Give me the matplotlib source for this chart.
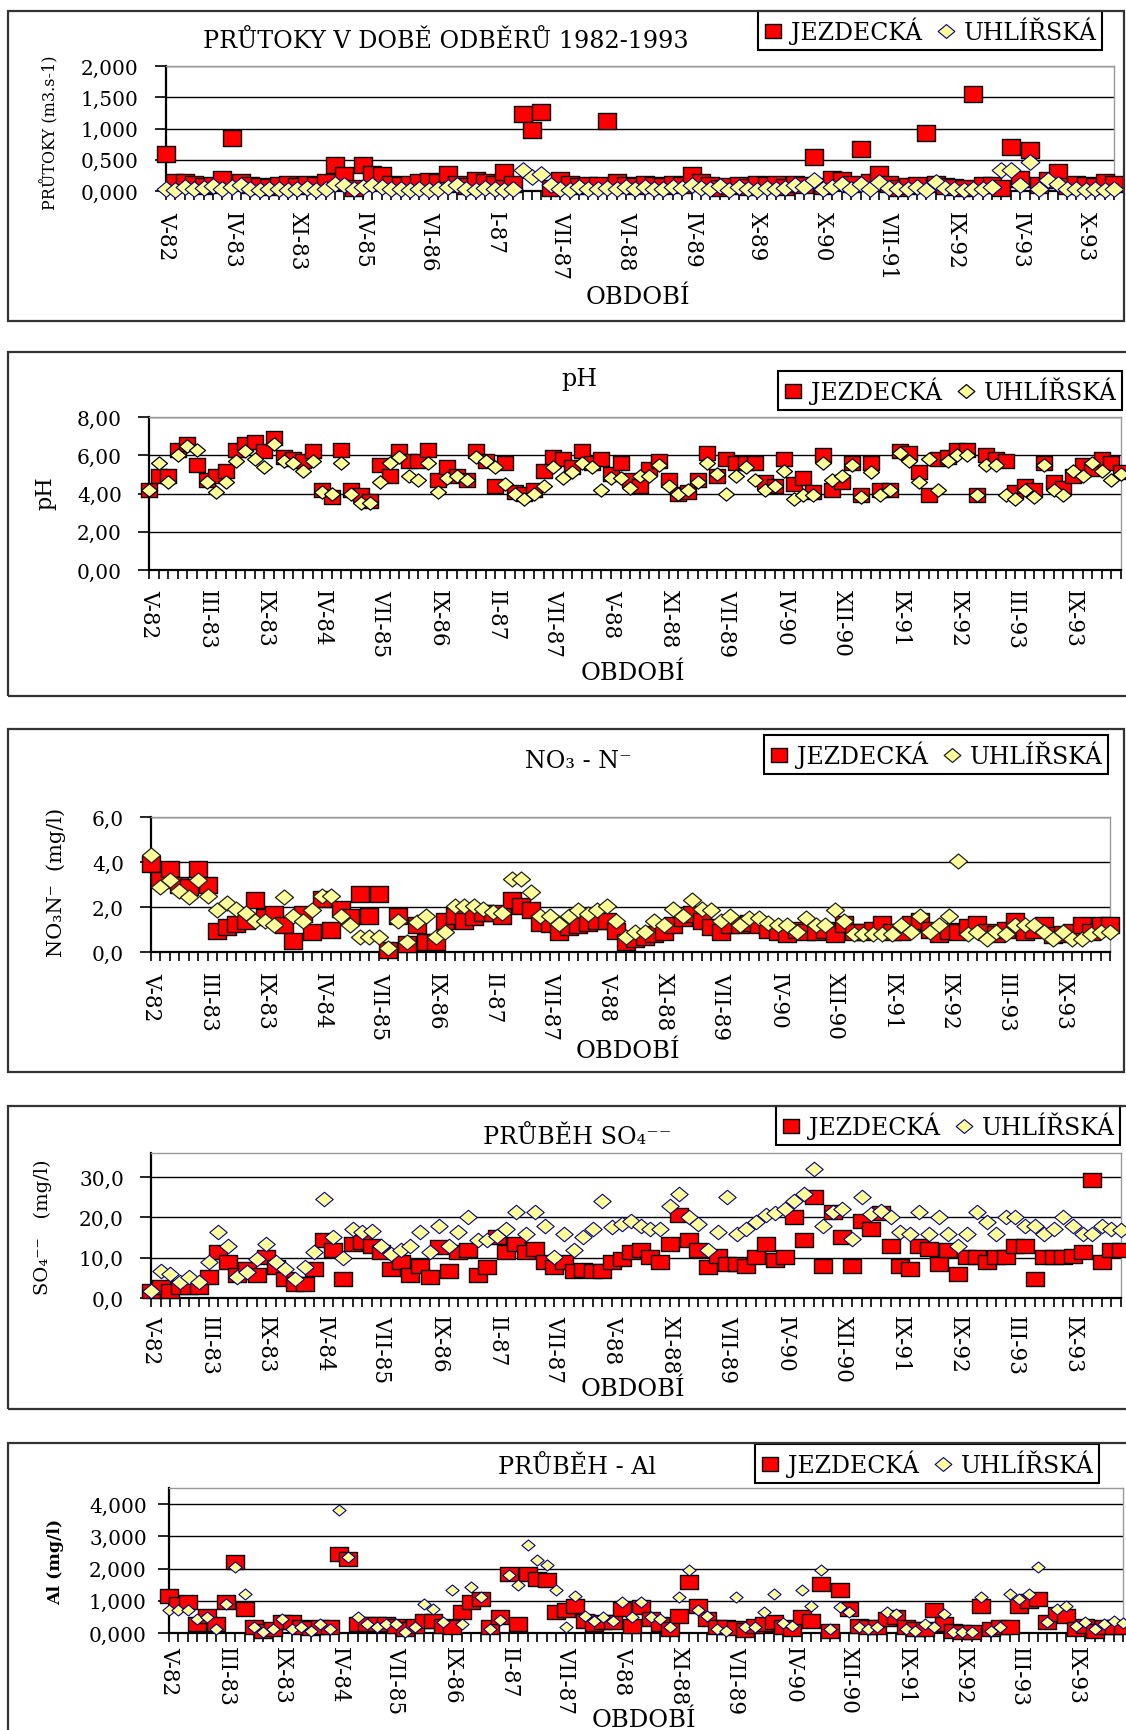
import numpy as np
import matplotlib
matplotlib.use("Agg")
import matplotlib.pyplot as plt
from matplotlib.lines import Line2D
from matplotlib.patches import Rectangle
from matplotlib.path import Path
from matplotlib.ticker import FuncFormatter

plt.rcParams['font.family'] = ['DejaVu Serif']

W, H, DPI = 1126, 1731, 100

# Sampling periods (category axis)
periods = [
    "V-82", "VI-82", "VII-82", "VIII-82", "IX-82", "XI-82", "III-83", "IV-83", "V-83", "VI-83",
    "VII-83", "VIII-83", "IX-83", "X-83", "XI-83", "I-84", "II-84", "III-84", "IV-84", "VI-84",
    "X-84", "IV-85", "V-85", "VI-85", "VII-85", "IX-85", "XI-85", "IV-86", "VI-86", "VII-86",
    "IX-86", "X-86", "X-86", "XI-86", "XII-86", "I-87", "II-87", "III-87", "IV-87", "IV-87",
    "V-87", "VI-87", "VII-87", "VIII-87", "IX-87", "X-87", "XI-87", "III-88", "V-88", "VI-88",
    "VII-88", "VIII-88", "IX-88", "X-88", "XI-88", "III-89", "IV-89", "V-89", "V-89", "VI-89",
    "VII-89", "VIII-89", "IX-89", "X-89", "XI-89", "III-90", "IV-90", "V-90", "VI-90", "VIII-90",
    "X-90", "XI-90", "XII-90", "II-91", "III-91", "IV-91", "VI-91", "VII-91", "IX-91", "X-91",
    "XI-91", "IV-92", "V-92", "VII-92", "IX-92", "X-92", "XI-92", "XII-92", "I-93", "II-93",
    "III-93", "IV-93", "V-93", "VI-93", "VII-93", "VIII-93", "IX-93", "IX-93", "X-93", "XI-93",
    "XII-93", "I-94",
]

series_names = ["JEZDECKÁ", "UHLÍŘSKÁ"]

# Discharge (m3/s)
flow_jez = [
    0.60, 0.15, 0.14, 0.12, 0.08, 0.10, 0.20, 0.85, 0.15, 0.10,
    0.08, 0.06, 0.10, 0.12, 0.08, 0.12, 0.10, 0.14, 0.42, 0.25,
    0.05, 0.42, 0.28, 0.25, 0.12, 0.10, 0.12, 0.14, 0.16, 0.15,
    0.27, 0.12, 0.08, 0.18, 0.15, 0.12, 0.31, 0.12, 1.23, 0.98,
    1.27, 0.05, 0.18, 0.12, 0.08, 0.10, 0.09, 1.12, 0.15, 0.10,
    0.08, 0.12, 0.10, 0.08, 0.12, 0.10, 0.25, 0.14, 0.10, 0.05,
    0.08, 0.10, 0.06, 0.12, 0.10, 0.12, 0.06, 0.12, 0.10, 0.55,
    0.08, 0.20, 0.18, 0.12, 0.68, 0.15, 0.28, 0.12, 0.05, 0.08,
    0.10, 0.93, 0.12, 0.08, 0.06, 0.05, 1.56, 0.10, 0.10, 0.05,
    0.70, 0.20, 0.65, 0.10, 0.18, 0.30, 0.08, 0.12, 0.10, 0.08,
    0.15, 0.12,
]
flow_uhl = [
    0.04, 0.02, 0.06, 0.03, 0.05, 0.08, 0.03, 0.06, 0.10, 0.04,
    0.02, 0.03, 0.04, 0.02, 0.03, 0.05, 0.02, 0.03, 0.12, 0.10,
    0.04, 0.06, 0.10, 0.06, 0.04, 0.03, 0.02, 0.04, 0.02, 0.03,
    0.06, 0.10, 0.04, 0.02, 0.05, 0.03, 0.02, 0.04, 0.33, 0.22,
    0.28, 0.10, 0.04, 0.02, 0.06, 0.03, 0.04, 0.05, 0.03, 0.06,
    0.04, 0.06, 0.03, 0.04, 0.06, 0.05, 0.10, 0.05, 0.03, 0.08,
    0.02, 0.06, 0.04, 0.02, 0.05, 0.04, 0.05, 0.10, 0.06, 0.17,
    0.04, 0.06, 0.12, 0.04, 0.12, 0.03, 0.15, 0.05, 0.03, 0.04,
    0.06, 0.02, 0.15, 0.05, 0.03, 0.02, 0.04, 0.03, 0.06, 0.33,
    0.33, 0.10, 0.47, 0.04, 0.17, 0.12, 0.03, 0.04, 0.02, 0.04,
    0.02, 0.03,
]

# pH
ph_jez = [
    4.2, 4.9, 4.9, 6.3, 6.6, 5.5, 4.7, 4.9, 5.2, 6.3,
    6.6, 6.7, 6.2, 6.9, 5.9, 5.8, 5.7, 6.2, 4.2, 3.8,
    6.3, 4.2, 3.9, 3.6, 5.5, 4.9, 6.2, 5.7, 5.7, 6.3,
    4.7, 5.4, 4.9, 4.7, 6.2, 5.7, 4.4, 5.6, 4.1, 4.0,
    4.2, 5.2, 5.9, 5.8, 5.4, 6.2, 5.6, 5.8, 5.0, 5.6,
    4.7, 4.4, 5.3, 5.7, 4.7, 4.0, 4.1, 4.7, 6.1, 4.9,
    5.8, 5.6, 5.6, 5.6, 4.6, 4.4, 5.8, 4.5, 4.8, 4.1,
    6.0, 4.2, 4.6, 5.6, 3.9, 5.6, 4.2, 4.2, 6.2, 6.1,
    5.1, 3.9, 5.8, 5.9, 6.3, 6.3, 3.9, 6.0, 5.8, 5.7,
    4.1, 4.4, 4.2, 5.6, 4.6, 4.3, 4.9, 5.5, 5.3, 5.8,
    5.6, 5.1,
]
ph_uhl = [
    4.2, 5.6, 4.6, 6.0, 6.5, 6.3, 4.6, 4.1, 4.6, 5.7,
    6.2, 5.8, 5.4, 6.6, 5.7, 5.6, 5.2, 5.7, 4.1, 4.0,
    5.6, 4.0, 3.5, 3.5, 4.6, 5.6, 5.9, 4.9, 4.7, 5.6,
    4.1, 4.8, 4.9, 4.7, 5.9, 5.7, 5.4, 4.5, 4.0, 3.7,
    4.0, 4.4, 5.4, 4.8, 5.1, 5.6, 5.4, 4.2, 4.8, 4.8,
    4.3, 4.9, 4.9, 5.5, 4.4, 4.0, 4.2, 4.6, 5.6, 5.0,
    4.0, 4.9, 5.4, 4.7, 4.2, 4.4, 5.2, 3.7, 3.9, 3.9,
    5.6, 4.7, 4.9, 5.5, 3.8, 5.1, 3.9, 4.2, 6.1, 5.7,
    4.6, 5.8, 4.2, 5.7, 6.0, 6.0, 3.9, 5.5, 5.5, 3.9,
    3.7, 4.2, 3.8, 5.5, 4.2, 3.9, 5.2, 4.9, 5.6, 5.2,
    4.7, 5.0,
]

# Nitrate nitrogen (mg/l)
no3_jez = [
    3.9, 3.2, 3.7, 3.0, 2.9, 3.7, 3.0, 0.95, 1.1, 1.25,
    1.4, 2.3, 1.55, 1.7, 1.2, 0.5, 1.7, 0.9, 2.35, 1.0,
    1.9, 1.55, 2.6, 1.6, 2.6, 0.1, 1.6, 0.35, 1.2, 0.45,
    0.45, 1.4, 1.6, 1.4, 1.55, 1.75, 1.75, 1.6, 2.3, 2.05,
    1.85, 1.3, 1.25, 0.9, 1.1, 1.2, 1.3, 1.4, 1.4, 0.95,
    0.45, 0.6, 0.65, 0.8, 0.9, 1.2, 1.5, 1.7, 1.4, 1.1,
    0.9, 1.2, 1.2, 1.3, 1.2, 1.0, 0.9, 0.8, 1.0, 0.9,
    0.9, 1.0, 0.8, 1.25, 0.9, 0.9, 1.0, 1.25, 0.9, 0.9,
    1.25, 1.4, 1.0, 0.8, 0.95, 0.9, 1.1, 1.25, 0.9, 0.8,
    1.0, 1.4, 0.9, 1.0, 1.2, 0.75, 0.8, 0.9, 1.2, 0.9,
    1.2, 1.2,
]
no3_uhl = [
    4.3, 2.9, 3.2, 2.7, 2.45, 3.2, 2.5, 1.85, 2.2, 1.9,
    1.75, 1.4, 1.4, 1.2, 2.45, 1.6, 1.4, 1.85, 2.5, 2.5,
    1.6, 1.2, 0.65, 0.65, 0.65, 0.2, 1.4, 0.45, 1.35, 1.6,
    0.65, 0.9, 2.05, 2.05, 2.05, 1.9, 1.8, 1.75, 3.25, 3.25,
    2.65, 1.6, 1.6, 1.25, 1.6, 1.85, 1.7, 1.85, 2.05, 1.4,
    0.65, 0.9, 0.9, 1.4, 1.2, 1.9, 1.6, 2.3, 1.9, 1.85,
    1.4, 1.6, 1.2, 1.5, 1.5, 1.3, 1.2, 1.2, 0.9, 1.5,
    1.2, 1.2, 1.85, 1.4, 0.8, 0.8, 0.8, 0.8, 0.8, 1.2,
    0.9, 1.6, 0.9, 1.2, 1.6, 4.05, 0.8, 0.9, 0.6, 0.9,
    0.8, 1.2, 1.2, 1.2, 0.9, 0.6, 0.9, 0.6, 0.6, 0.8,
    0.9, 0.9,
]

# Sulphate (mg/l)
so4_jez = [
    1.8, 2.7, 1.8, 2.7, 2.7, 2.7, 5.1, 11.4, 8.9, 5.6,
    7.2, 5.6, 10.1, 7.6, 4.7, 3.5, 3.5, 7.2, 14.3, 11.8,
    4.7, 13.4, 13.8, 13.0, 11.4, 7.2, 8.9, 5.6, 8.0, 5.1,
    12.6, 6.8, 11.4, 11.8, 5.6, 7.6, 15.1, 11.4, 13.4, 11.4,
    12.2, 8.9, 7.6, 8.9, 6.8, 7.0, 6.8, 6.8, 8.9, 9.7,
    11.4, 11.8, 10.1, 8.9, 13.4, 20.5, 14.3, 11.8, 7.6, 10.5,
    8.5, 8.5, 8.0, 10.1, 13.4, 9.5, 10.1, 20.0, 14.3, 25.0,
    8.0, 21.3, 15.1, 8.0, 19.2, 17.1, 21.0, 13.0, 8.0, 7.2,
    13.0, 12.2, 8.5, 11.8, 6.0, 10.1, 10.1, 8.9, 10.1, 10.1,
    13.0, 13.0, 4.7, 10.1, 10.1, 10.1, 10.5, 11.4, 29.2, 8.9,
    11.8, 12.0,
]
so4_uhl = [
    1.7, 6.8, 6.0, 3.9, 5.1, 3.9, 8.9, 16.3, 13.0, 5.1,
    6.4, 9.7, 13.4, 8.9, 7.2, 4.7, 7.6, 11.4, 24.6, 15.1,
    9.9, 17.1, 16.3, 16.7, 13.0, 10.9, 11.8, 13.0, 16.3, 11.4,
    18.0, 13.0, 16.3, 20.0, 14.3, 14.5, 15.5, 17.1, 21.3, 15.9,
    21.3, 18.0, 10.1, 15.9, 11.8, 15.1, 17.1, 24.2, 17.6, 18.4,
    19.2, 18.0, 17.1, 17.1, 22.9, 25.8, 20.0, 18.4, 11.8, 16.3,
    25.0, 15.9, 17.1, 18.8, 20.5, 21.0, 22.1, 24.2, 25.8, 32.1,
    18.0, 21.3, 22.1, 14.7, 25.0, 20.9, 21.7, 20.0, 16.3, 15.9,
    21.3, 15.9, 20.0, 15.9, 13.0, 15.9, 21.3, 18.8, 15.9, 20.0,
    20.0, 18.0, 18.0, 15.9, 17.1, 20.0, 18.0, 15.9, 15.9, 18.0,
    17.1, 17.0,
]

# Aluminium (mg/l)
al_jez = [
    1.16, 0.90, 0.95, 0.28, 0.54, 0.28, 0.95, 2.20, 0.75, 0.18,
    0.07, 0.12, 0.33, 0.33, 0.18, 0.15, 0.18, 0.18, 2.46, 2.30,
    0.28, 0.28, 0.28, 0.28, 0.23, 0.12, 0.23, 0.38, 0.38, 0.23,
    0.18, 0.64, 0.95, 1.06, 0.18, 0.49, 1.84, 0.28, 1.84, 1.68,
    1.63, 0.64, 0.70, 0.85, 0.38, 0.28, 0.33, 0.33, 0.75, 0.23,
    0.80, 0.44, 0.28, 0.12, 0.54, 1.58, 0.85, 0.44, 0.18, 0.18,
    0.15, 0.10, 0.23, 0.28, 0.35, 0.20, 0.12, 0.49, 0.38, 1.53,
    0.07, 1.32, 0.75, 0.23, 0.18, 0.18, 0.44, 0.49, 0.18, 0.12,
    0.12, 0.70, 0.28, 0.07, 0.02, 0.04, 0.85, 0.12, 0.18, 0.18,
    0.85, 1.00, 1.06, 0.33, 0.59, 0.54, 0.12, 0.23, 0.07, 0.18,
    0.18, 0.20,
]
al_uhl = [
    0.70, 0.70, 0.70, 0.44, 0.49, 0.12, 0.90, 2.05, 1.21, 0.18,
    0.02, 0.12, 0.44, 0.12, 0.18, 0.07, 0.28, 0.12, 3.81, 2.36,
    0.49, 0.28, 0.18, 0.28, 0.28, 0.04, 0.18, 0.90, 0.75, 0.33,
    1.32, 0.28, 1.42, 1.11, 0.12, 0.40, 1.80, 1.50, 2.72, 2.28,
    2.12, 1.32, 0.18, 1.14, 0.54, 0.38, 0.49, 0.38, 0.95, 0.49,
    0.95, 0.49, 0.44, 0.18, 1.11, 1.94, 0.70, 0.54, 0.12, 0.07,
    1.11, 0.18, 0.18, 0.64, 1.21, 0.30, 0.23, 1.32, 0.85, 1.94,
    0.12, 0.80, 0.64, 0.18, 0.12, 0.18, 0.64, 0.59, 0.12, 0.07,
    0.28, 0.18, 0.59, 0.04, 0.02, 0.02, 1.11, 0.07, 0.18, 1.21,
    1.06, 1.21, 2.05, 0.33, 0.75, 0.85, 0.23, 0.33, 0.12, 0.28,
    0.38, 0.30,
]

RED = '#FF0000'
YELLOW = '#FFFF99'
NAVY = '#000080'

# Slightly wide square and diamond marker shapes
SQUARE = Path([(-0.6, -0.5), (0.6, -0.5), (0.6, 0.5), (-0.6, 0.5), (-0.6, -0.5)],
              [Path.MOVETO, Path.LINETO, Path.LINETO, Path.LINETO, Path.CLOSEPOLY])
DIAMOND = Path([(0, -0.5), (0.6, 0), (0, 0.5), (-0.6, 0), (0, -0.5)],
               [Path.MOVETO, Path.LINETO, Path.LINETO, Path.LINETO, Path.CLOSEPOLY])

fig = plt.figure(figsize=(W / DPI, H / DPI), dpi=DPI)
fig.patch.set_facecolor('white')


def fx(x):
    return x / W


def fy(y):
    return 1 - y / H


def add_frame(l, t, r, b):
    fig.patches.append(Rectangle((fx(l), fy(b)), fx(r - l), (b - t) / H,
                                 transform=fig.transFigure, fill=False,
                                 edgecolor='#333333', lw=1.6, clip_on=False))


def draw_panel(p, jez, uhl):
    l, t, r, b = p['rect']
    add_frame(*p['frame'])
    ax = fig.add_axes([fx(l), fy(b), fx(r - l), (b - t) / H])
    x = np.arange(len(periods))
    ax.plot(x, jez, ls='none', marker=SQUARE, ms=p['sq'], mfc=RED, mec='black',
            mew=1.0, clip_on=False, zorder=3)
    ax.plot(x, uhl, ls='none', marker=DIAMOND, ms=p['dm'], mfc=YELLOW,
            mec=p['dm_edge'], mew=p['dm_lw'], clip_on=False, zorder=4)
    ax.set_xlim(0, len(periods) - 1)
    ax.set_ylim(0, p['ymax'])
    ax.set_yticks(p['yticks'])
    dec = p['dec']
    ax.yaxis.set_major_formatter(
        FuncFormatter(lambda v, pos: f"{v:.{dec}f}".replace('.', ',')))
    ax.grid(axis='y', color='black', lw=1.0)
    ax.set_axisbelow(True)
    step = p['label_every']
    ax.set_xticks(x)
    ax.set_xticklabels([periods[i] if i % step == 0 else '' for i in x],
                       rotation=-90, fontsize=15.5)
    ax.tick_params(axis='x', direction='out', length=6.5, width=1.2,
                   pad=p['xpad'], colors='black')
    ax.tick_params(axis='y', direction='out', length=8, width=1.2,
                   pad=p['ypad'], labelsize=14.5)
    for s in ('left', 'bottom'):
        ax.spines[s].set_color('black')
        ax.spines[s].set_linewidth(1.6)
    for s in ('top', 'right'):
        ax.spines[s].set_color('#9a9a9a')
        ax.spines[s].set_linewidth(1.0)

    fig.text(fx(p['title_xy'][0]), fy(p['title_xy'][1]), p['title'],
             ha='center', va='center', fontsize=17.2)
    fig.text(fx(p['ylabel_xy'][0]), fy(p['ylabel_xy'][1]), p['ylabel'],
             ha='center', va='center', rotation=90, fontsize=p['ylabel_size'],
             fontweight=p['ylabel_weight'])
    fig.text(fx(p['xlabel_xy'][0]), fy(p['xlabel_xy'][1]), "OBDOBÍ",
             ha='center', va='center', fontsize=17.5)

    h1 = Line2D([], [], ls='none', marker=SQUARE, ms=12, mfc=RED, mec='black', mew=1.0)
    h2 = Line2D([], [], ls='none', marker=DIAMOND, ms=12, mfc=YELLOW,
                mec=p['dm_edge'], mew=p['dm_lw'])
    leg = ax.legend([h1, h2], series_names, loc='upper left',
                    bbox_to_anchor=(fx(p['legend_xy'][0]), fy(p['legend_xy'][1])),
                    bbox_transform=fig.transFigure, ncol=2, fontsize=17,
                    frameon=True, fancybox=False, edgecolor='black', framealpha=1,
                    borderpad=0.25, handlelength=0.8, handletextpad=0.35,
                    columnspacing=0.6, borderaxespad=0)
    leg.get_frame().set_linewidth(1.5)
    leg.set_zorder(10)
    return ax


panels = [
    dict(rect=(166, 67, 1114, 192), frame=(8, 12, 1124, 322), ymax=2.0,
         yticks=[0, 0.5, 1.0, 1.5, 2.0], dec=3, label_every=7,
         title="PRŮTOKY V DOBĚ ODBĚRŮ 1982-1993", title_xy=(446, 42),
         ylabel="PRŮTOKY (m3.s-1)", ylabel_xy=(50, 133), ylabel_size=11.5,
         ylabel_weight='normal', xlabel_xy=(638, 298), legend_xy=(758, 12),
         sq=13, dm=13.5, dm_edge=NAVY, dm_lw=0.8, ypad=12, xpad=8),
    dict(rect=(149, 418, 1121, 571), frame=(8, 353, 1145, 697), ymax=8.0,
         yticks=[0, 2, 4, 6, 8], dec=2, label_every=6,
         title="pH", title_xy=(579, 380),
         ylabel="pH", ylabel_xy=(45, 493), ylabel_size=16,
         ylabel_weight='normal', xlabel_xy=(633, 673), legend_xy=(778, 372),
         sq=11.5, dm=11.5, dm_edge='black', dm_lw=0.9, ypad=11.5, xpad=7),
    dict(rect=(151, 818, 1110, 953), frame=(8, 730, 1124, 1073), ymax=6.0,
         yticks=[0, 2, 4, 6], dec=1, label_every=6,
         title="NO₃ - N⁻", title_xy=(578, 762),
         ylabel="NO₃N⁻  (mg/l)", ylabel_xy=(56, 882), ylabel_size=15,
         ylabel_weight='normal', xlabel_xy=(628, 1052), legend_xy=(764, 736),
         sq=13, dm=13, dm_edge='#202020', dm_lw=0.9, ypad=11.5, xpad=8),
    dict(rect=(151, 1154, 1121, 1299), frame=(8, 1107, 1145, 1410), ymax=36.0,
         yticks=[0, 10, 20, 30], dec=1, label_every=6,
         title="PRŮBĚH SO₄⁻⁻", title_xy=(577, 1137),
         ylabel="SO₄⁻⁻   (mg/l)", ylabel_xy=(43, 1227), ylabel_size=14,
         ylabel_weight='normal', xlabel_xy=(633, 1390), legend_xy=(776, 1107),
         sq=12.5, dm=12.5, dm_edge=NAVY, dm_lw=0.8, ypad=11.5, xpad=6),
    dict(rect=(169, 1489, 1123, 1634), frame=(8, 1444, 1145, 1760), ymax=4.5,
         yticks=[0, 1, 2, 3, 4], dec=3, label_every=6,
         title="PRŮBĚH - Al", title_xy=(577, 1468),
         ylabel="Al (mg/l)", ylabel_xy=(56, 1562), ylabel_size=12.5,
         ylabel_weight='bold', xlabel_xy=(644, 1721), legend_xy=(755, 1445),
         sq=12.5, dm=9.5, dm_edge=NAVY, dm_lw=0.8, ypad=8, xpad=3),
]

data = [(flow_jez, flow_uhl), (ph_jez, ph_uhl), (no3_jez, no3_uhl),
        (so4_jez, so4_uhl), (al_jez, al_uhl)]

for p, (j, u) in zip(panels, data):
    draw_panel(p, j, u)

fig.savefig("out.png", dpi=DPI, facecolor='white')
